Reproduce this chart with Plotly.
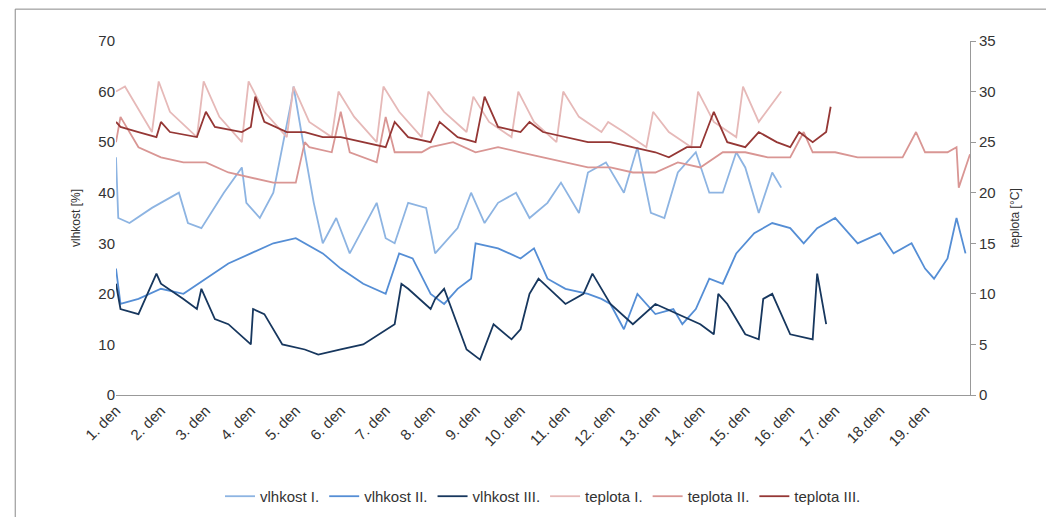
import plotly.graph_objects as go

tick_labels = [f"{i}. den" for i in range(1, 18)] + ["18.den", "19. den"]

v1_x = [0,0.05,0.3,0.8,1.4,1.6,1.9,2.4,2.8,2.9,3.2,3.5,3.9,3.95,4.2,4.4,4.6,4.9,5.2,5.5,5.8,6.0,6.2,6.5,6.9,7.1,7.6,7.9,8.2,8.5,8.9,9.2,9.6,9.9,10.3,10.5,10.9,11.3,11.6,11.9,12.2,12.5,12.9,13.2,13.5,13.8,14.0,14.3,14.6,14.8]
v1_y = [47,35,34,37,40,34,33,40,45,38,35,40,58,61,48,38,30,35,28,33,38,31,30,38,37,28,33,40,34,38,40,35,38,42,36,44,46,40,49,36,35,44,48,40,40,48,45,36,44,41]

v2_x = [0,0.1,0.5,1.0,1.5,2.0,2.5,3.0,3.5,4.0,4.4,4.6,5.0,5.5,6.0,6.3,6.6,7.0,7.3,7.6,7.9,8.0,8.5,9.0,9.3,9.6,10.0,10.5,10.8,11.0,11.3,11.6,12.0,12.4,12.6,12.9,13.2,13.5,13.8,14.2,14.6,15.0,15.3,15.6,16.0,16.5,17.0,17.3,17.7,18.0,18.2,18.5,18.7,18.9]
v2_y = [25,18,19,21,20,23,26,28,30,31,29,28,25,22,20,28,27,20,18,21,23,30,29,27,29,23,21,20,19,18,13,20,16,17,14,17,23,22,28,32,34,33,30,33,35,30,32,28,30,25,23,27,35,28]

v3_x = [0,0.1,0.5,0.9,1.0,1.5,1.8,1.9,2.2,2.5,3.0,3.05,3.3,3.7,4.2,4.5,5.0,5.5,6.2,6.35,6.5,7.0,7.1,7.3,7.8,8.1,8.4,8.8,9.0,9.2,9.4,10.0,10.4,10.6,11.0,11.5,12.0,12.5,13.0,13.3,13.4,13.6,14.0,14.3,14.4,14.6,15.0,15.5,15.6,15.8]
v3_y = [22,17,16,24,22,19,17,21,15,14,10,17,16,10,9,8,9,10,14,22,21,17,19,21,9,7,14,11,13,20,23,18,20,24,18,14,18,16,14,12,20,18,12,11,19,20,12,11,24,14]

t1_x = [0,0.2,0.8,0.95,1.2,1.8,1.95,2.3,2.8,2.95,3.3,3.8,3.95,4.3,4.8,4.95,5.3,5.8,5.95,6.3,6.8,6.95,7.3,7.8,7.95,8.3,8.8,8.95,9.3,9.8,9.95,10.3,10.8,10.95,11.3,11.8,11.95,12.3,12.8,12.95,13.3,13.8,13.95,14.3,14.8]
t1_y = [30,30.5,26,31,28,25.5,31,27.5,25,31,28,25.5,30.5,27,25.5,30,27.5,25,30.5,28,25.5,30,28,26,29.5,27,25.5,30,27,25,30,27.5,26,27,26,24.5,28,26,24.5,30,27,25.5,30.5,27,30]

t2_x = [0,0.1,0.5,1.0,1.5,2.0,2.5,3.0,3.5,4.0,4.2,4.3,4.8,5.0,5.2,5.8,6.0,6.2,6.8,7.0,7.5,8.0,8.5,9.0,9.5,10.0,10.5,11.0,11.5,12.0,12.5,13.0,13.5,14.0,14.5,15.0,15.3,15.5,16.0,16.5,17.0,17.5,17.8,18.0,18.5,18.7,18.75,19.0]
t2_y = [25,27.5,24.5,23.5,23,23,22,21.5,21,21,25,24.5,24,28,24,23,27.5,24,24,24.5,25,24,24.5,24,23.5,23,22.5,22.5,22,22,23,22.5,24,24,23.5,23.5,26,24,24,23.5,23.5,23.5,26,24,24,24.5,20.5,23.8]

t3_x = [0,0.1,0.5,0.9,1.0,1.2,1.8,2.0,2.2,2.8,3.0,3.1,3.3,3.8,4.2,4.6,5.0,5.5,6.0,6.2,6.5,7.0,7.2,7.6,8.0,8.2,8.5,9.0,9.2,9.5,10.0,10.5,11.0,11.5,12.0,12.3,12.7,13.0,13.3,13.6,14.0,14.3,14.7,15.0,15.2,15.5,15.8,15.9]
t3_y = [27,26.5,26,25.5,27,26,25.5,28,26.5,26,26.5,29.5,27,26,26,25.5,25.5,25,24.5,27,25.5,25,27,25.5,25,29.5,26.5,26,27,26,25.5,25,25,24.5,24,23.5,24.5,24.5,28,25,24.5,26,25,24.5,26,25,26,28.5]

fig = go.Figure()
series = [
    ("vlhkost I.", v1_x, v1_y, "#8DB4E2", "y"),
    ("vlhkost II.", v2_x, v2_y, "#558ED5", "y"),
    ("vlhkost III.", v3_x, v3_y, "#17375E", "y"),
    ("teplota I.", t1_x, t1_y, "#E6B9B8", "y2"),
    ("teplota II.", t2_x, t2_y, "#D99694", "y2"),
    ("teplota III.", t3_x, t3_y, "#953735", "y2"),
]
for name, x, y, c, ax in series:
    fig.add_trace(go.Scatter(x=x, y=y, name=name, mode="lines", yaxis=ax,
                             line=dict(color=c, width=1.8)))

font = dict(family="Liberation Sans Narrow, Liberation Sans", size=15, color="#333")
fig.update_layout(
    width=1054, height=517, paper_bgcolor="white", plot_bgcolor="white",
    margin=dict(l=108, r=92, t=33, b=119), font=font,
    xaxis=dict(range=[0, 19], tickvals=list(range(19)), ticktext=tick_labels,
               tickangle=-45, showgrid=False, showline=True, linecolor="#999",
               ticks="", zeroline=False, automargin=False),
    yaxis=dict(range=[0, 70], dtick=10, showgrid=False, showline=False, zeroline=False,
               automargin=False,
               title=dict(text="vlhkost [%]", font=dict(size=12)), ticks="", ticklen=0),
    yaxis2=dict(range=[0, 35], dtick=5, overlaying="y", side="right", showgrid=False,
                showline=True, linecolor="#999", ticks="outside", tickcolor="#999",
                automargin=False,
                title=dict(text="teplota [°C]", font=dict(size=12)), zeroline=False),
    legend=dict(orientation="h", x=0.5, xanchor="center", y=-0.24, yanchor="top",
                font=dict(size=15)),
    shapes=[dict(type="rect", xref="paper", yref="paper", x0=-0.118, x1=1.12, y0=-0.5, y1=1.09,
                 line=dict(color="#888", width=1))],
)
fig.write_html("out.html")
